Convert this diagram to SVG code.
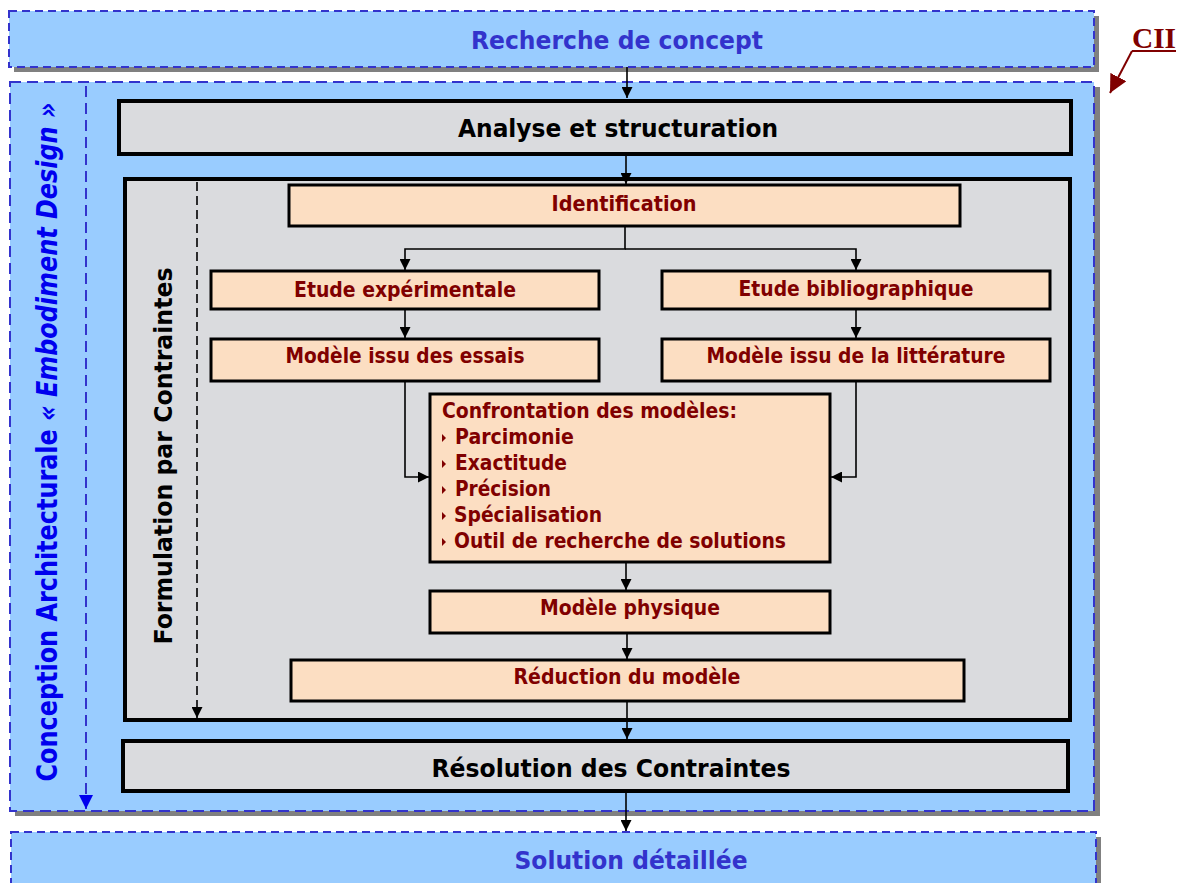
<svg xmlns="http://www.w3.org/2000/svg" width="1182" height="883" viewBox="0 0 1182 883">
<style>
.band{fill:#99CCFF;stroke:#3333CC;stroke-width:2;stroke-dasharray:8 5}
.band2{fill:#99CCFF;stroke:#3333CC;stroke-width:2;stroke-dasharray:11 6}
.shadow{fill:#808080}
.gbox{fill:#DADBDE;stroke:#000;stroke-width:4}
.pbox{fill:#FCDEC2;stroke:#000;stroke-width:3}
.big{font-family:"DejaVu Sans",Verdana,sans-serif;font-weight:bold;font-size:25px;fill:#000;text-anchor:middle}
.bl{font-family:"DejaVu Sans",Verdana,sans-serif;font-weight:bold;font-size:25px;fill:#3333CC;text-anchor:middle}
.red{font-family:"DejaVu Sans",Verdana,sans-serif;font-weight:bold;font-size:20.5px;fill:#800000;text-anchor:middle}
.redl{font-family:"DejaVu Sans",Verdana,sans-serif;font-weight:bold;font-size:20.5px;fill:#800000}
.conn{fill:none;stroke:#000;stroke-width:1.6}
.bul{fill:#800000}
</style>
<defs>
<marker id="ah" viewBox="0 0 10 10" refX="10" refY="5" markerWidth="11" markerHeight="11" markerUnits="userSpaceOnUse" orient="auto">
<path d="M0,0 L10,5 L0,10 z" fill="#000"/>
</marker>
<marker id="ahb" viewBox="0 0 10 10" refX="10" refY="5" markerWidth="14" markerHeight="14" markerUnits="userSpaceOnUse" orient="auto">
<path d="M0,0 L10,5 L0,10 z" fill="#0000EE"/>
</marker>
<marker id="ahr" viewBox="0 0 10 10" refX="10" refY="5" markerWidth="18" markerHeight="18" markerUnits="userSpaceOnUse" orient="auto">
<path d="M0,0 L10,5 L0,10 z" fill="#800000"/>
</marker>
</defs>

<g id="recherche">
<rect class="shadow" x="14" y="16" width="1085" height="56"/>
<rect class="band" x="9" y="11" width="1085" height="56"/>
<text class="bl" x="617" y="49" textLength="292" lengthAdjust="spacingAndGlyphs">Recherche de concept</text>
</g>

<g id="solution">
<rect class="shadow" x="16" y="837" width="1085" height="60"/>
<rect class="band" x="11" y="832" width="1085" height="60"/>
<text class="bl" x="631" y="869" textLength="233" lengthAdjust="spacingAndGlyphs">Solution détaillée</text>
</g>

<g id="conception">
<rect class="shadow" x="15" y="87" width="1085" height="729"/>
<rect class="band2" x="10" y="82" width="1084" height="729"/>
<line x1="86" y1="86" x2="86" y2="809" stroke="#3333CC" stroke-width="2" stroke-dasharray="11 6" marker-end="url(#ahb)"/>
<text transform="translate(57,442) rotate(-90)" font-family="'DejaVu Sans',Verdana,sans-serif" font-weight="bold" font-size="28" fill="#0000EE" text-anchor="middle" textLength="679" lengthAdjust="spacingAndGlyphs">Conception Architecturale <tspan font-style="italic">« Embodiment Design »</tspan></text>
</g>

<g id="analyse">
<rect class="gbox" x="119" y="101" width="952" height="53"/>
<text class="big" x="618" y="137" textLength="320" lengthAdjust="spacingAndGlyphs">Analyse et structuration</text>
</g>

<g id="formulation">
<rect class="gbox" x="125" y="179" width="945" height="541"/>
<line x1="197" y1="182" x2="197" y2="718" stroke="#000" stroke-width="1.6" stroke-dasharray="9 5" marker-end="url(#ah)"/>
<text class="big" transform="translate(172,456) rotate(-90)" textLength="377" lengthAdjust="spacingAndGlyphs">Formulation par Contraintes</text>
</g>

<g id="resolution">
<rect class="gbox" x="123" y="741" width="945" height="50"/>
<text class="big" x="611" y="777" textLength="359" lengthAdjust="spacingAndGlyphs">Résolution des Contraintes</text>
</g>

<g id="identification">
<rect class="pbox" x="289" y="185" width="671" height="41"/>
<text class="red" x="624" y="211" textLength="145" lengthAdjust="spacingAndGlyphs">Identification</text>
</g>

<g id="etude-exp">
<rect class="pbox" x="211" y="271" width="388" height="38"/>
<text class="red" x="405" y="297" textLength="222" lengthAdjust="spacingAndGlyphs">Etude expérimentale</text>
</g>

<g id="etude-bib">
<rect class="pbox" x="662" y="271" width="388" height="38"/>
<text class="red" x="856" y="296" textLength="235" lengthAdjust="spacingAndGlyphs">Etude bibliographique</text>
</g>

<g id="modele-essais">
<rect class="pbox" x="211" y="339" width="388" height="42"/>
<text class="red" x="405" y="363" textLength="239" lengthAdjust="spacingAndGlyphs">Modèle issu des essais</text>
</g>

<g id="modele-litt">
<rect class="pbox" x="662" y="339" width="388" height="42"/>
<text class="red" x="856" y="363" textLength="299" lengthAdjust="spacingAndGlyphs">Modèle issu de la littérature</text>
</g>

<g id="confrontation">
<rect class="pbox" x="430" y="394" width="400" height="168"/>
<text class="redl" x="442" y="418" textLength="295" lengthAdjust="spacingAndGlyphs">Confrontation des modèles:</text>
<path class="bul" d="M442,434 L446,438 L442,442 z"/>
<text class="redl" x="455" y="444" textLength="119" lengthAdjust="spacingAndGlyphs">Parcimonie</text>
<path class="bul" d="M442,460 L446,464 L442,468 z"/>
<text class="redl" x="455" y="470" textLength="112" lengthAdjust="spacingAndGlyphs">Exactitude</text>
<path class="bul" d="M442,486 L446,490 L442,494 z"/>
<text class="redl" x="455" y="496" textLength="96" lengthAdjust="spacingAndGlyphs">Précision</text>
<path class="bul" d="M442,512 L446,516 L442,520 z"/>
<text class="redl" x="454" y="522" textLength="148" lengthAdjust="spacingAndGlyphs">Spécialisation</text>
<path class="bul" d="M442,538 L446,542 L442,546 z"/>
<text class="redl" x="454" y="548" textLength="332" lengthAdjust="spacingAndGlyphs">Outil de recherche de solutions</text>
</g>

<g id="modele-physique">
<rect class="pbox" x="430" y="591" width="400" height="42"/>
<text class="red" x="630" y="615" textLength="180" lengthAdjust="spacingAndGlyphs">Modèle physique</text>
</g>

<g id="reduction">
<rect class="pbox" x="291" y="660" width="673" height="41"/>
<text class="red" x="627" y="684" textLength="227" lengthAdjust="spacingAndGlyphs">Réduction du modèle</text>
</g>

<g id="cii">
<text x="1132" y="48" font-family="'Liberation Serif','Times New Roman',serif" font-weight="bold" font-size="30" fill="#800000" textLength="44" lengthAdjust="spacingAndGlyphs">CII</text>
<line x1="1132" y1="51" x2="1176" y2="51" stroke="#800000" stroke-width="2"/>
<line x1="1132" y1="51" x2="1110" y2="93" stroke="#800000" stroke-width="2" marker-end="url(#ahr)"/>
</g>

<g id="connectors">
<line class="conn" x1="627" y1="67" x2="627" y2="98" marker-end="url(#ah)"/>
<line class="conn" x1="626" y1="154" x2="626" y2="184" marker-end="url(#ah)"/>
<path class="conn" d="M625,226 V249 H405 V270" marker-end="url(#ah)"/>
<path class="conn" d="M625,249 H856 V270" marker-end="url(#ah)"/>
<line class="conn" x1="405" y1="309" x2="405" y2="338" marker-end="url(#ah)"/>
<line class="conn" x1="856" y1="309" x2="856" y2="338" marker-end="url(#ah)"/>
<path class="conn" d="M405,381 V477 H429" marker-end="url(#ah)"/>
<path class="conn" d="M856,381 V477 H831" marker-end="url(#ah)"/>
<line class="conn" x1="626" y1="562" x2="626" y2="590" marker-end="url(#ah)"/>
<line class="conn" x1="627" y1="633" x2="627" y2="659" marker-end="url(#ah)"/>
<line class="conn" x1="627" y1="701" x2="627" y2="739" marker-end="url(#ah)"/>
<line class="conn" x1="626" y1="791" x2="626" y2="831" marker-end="url(#ah)"/>
</g>
</svg>
